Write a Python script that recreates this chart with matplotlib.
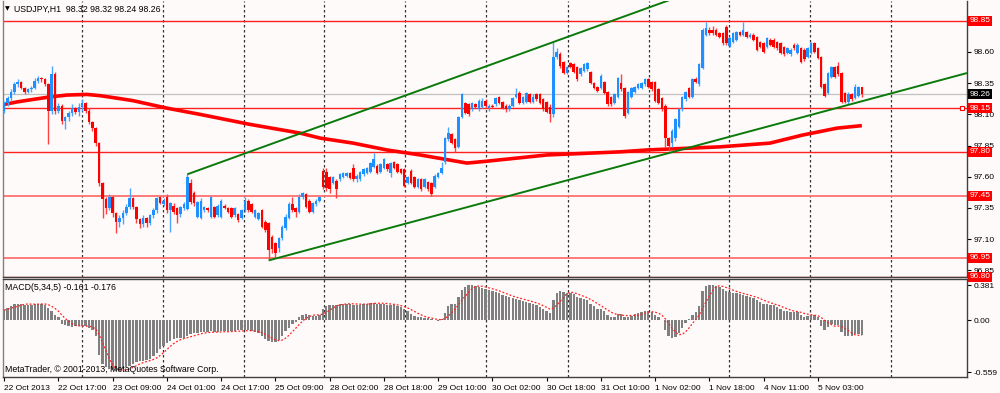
import matplotlib
matplotlib.use('Agg')
import matplotlib.pyplot as plt
import numpy as np
import pandas as pd

# ---------------- data ----------------
opens = [98.13,98.19,98.23,98.28,98.34,98.36,98.31,98.28,98.30,98.31,98.37,98.39,98.38,98.34,98.13,98.42,98.13,98.17,98.05,98.08,
98.11,98.15,98.12,98.16,98.19,98.13,98.04,97.99,97.87,97.55,97.42,97.35,97.44,97.31,97.24,97.27,97.31,97.36,97.43,97.36,
97.26,97.22,97.27,97.23,97.29,97.33,97.44,97.38,97.44,97.33,97.37,97.35,97.30,97.35,97.34,97.55,97.47,97.28,97.27,97.33,
97.35,97.28,97.36,97.29,97.28,97.37,97.35,97.35,97.29,97.30,97.27,97.33,97.41,97.38,97.28,97.26,97.33,97.24,97.23,97.12,
97.07,97.03,97.11,97.19,97.27,97.38,97.35,97.32,97.44,97.46,97.41,97.32,97.38,97.41,97.65,97.64,97.60,97.55,97.57,97.58,
97.60,97.61,97.63,97.67,97.58,97.58,97.62,97.63,97.64,97.68,97.69,97.64,97.67,97.70,97.63,97.72,97.70,97.66,97.66,97.55,
97.65,97.60,97.52,97.58,97.52,97.56,97.55,97.52,97.60,97.63,97.72,97.90,97.94,97.90,97.84,98.08,98.19,98.18,98.14,98.18,
98.14,98.16,98.21,98.15,98.17,98.18,98.24,98.20,98.17,98.14,98.17,98.24,98.27,98.19,98.20,98.26,98.20,98.26,98.26,98.22,
98.20,98.16,98.10,98.56,98.58,98.52,98.43,98.51,98.50,98.48,98.42,98.45,98.46,98.44,98.35,98.32,98.31,98.36,98.28,98.24,
98.19,98.24,98.35,98.31,98.11,98.24,98.28,98.31,98.31,98.34,98.38,98.36,98.36,98.30,98.23,98.17,97.91,97.87,97.91,98.00,
98.14,98.22,98.31,98.24,98.38,98.34,98.47,98.74,98.78,98.78,98.78,98.75,98.75,98.80,98.65,98.68,98.70,98.76,98.74,98.76,
98.72,98.74,98.72,98.68,98.67,98.64,98.70,98.70,98.68,98.67,98.64,98.59,98.58,98.66,98.59,98.63,98.62,98.56,98.59,98.67,
98.63,98.56,98.34,98.27,98.40,98.48,98.49,98.43,98.27,98.20,98.26,98.23,98.25,98.32]
highs = [98.21,98.25,98.30,98.36,98.38,98.37,98.32,98.31,98.33,98.39,98.41,98.40,98.39,98.35,98.49,98.44,98.19,98.18,98.09,98.13,
98.18,98.16,98.19,98.22,98.20,98.15,98.05,98.00,97.88,97.56,97.44,97.46,97.45,97.32,97.29,97.33,97.38,97.51,97.44,97.37,
97.27,97.29,97.28,97.30,97.35,97.44,97.45,97.43,97.46,97.40,97.39,97.36,97.37,97.40,97.62,97.58,97.49,97.41,97.43,97.37,
97.36,97.45,97.37,97.38,97.42,97.38,97.36,97.36,97.36,97.31,97.34,97.44,97.42,97.39,97.34,97.32,97.34,97.25,97.24,97.13,
97.08,97.12,97.21,97.30,97.40,97.44,97.36,97.46,97.48,97.47,97.42,97.40,97.42,97.45,97.67,97.67,97.61,97.61,97.58,97.63,
97.64,97.64,97.64,97.70,97.62,97.65,97.67,97.68,97.72,97.79,97.70,97.71,97.75,97.71,97.72,97.73,97.71,97.67,97.67,97.61,
97.66,97.61,97.59,97.59,97.59,97.57,97.56,97.62,97.64,97.72,97.92,98.00,97.95,97.91,98.09,98.27,98.20,98.19,98.20,98.19,
98.22,98.23,98.22,98.18,98.18,98.24,98.25,98.21,98.18,98.18,98.24,98.31,98.29,98.25,98.28,98.27,98.26,98.27,98.27,98.23,
98.21,98.18,98.68,98.63,98.60,98.53,98.49,98.52,98.51,98.49,98.48,98.51,98.52,98.45,98.36,98.33,98.42,98.37,98.29,98.25,
98.27,98.40,98.42,98.32,98.29,98.32,98.33,98.35,98.36,98.39,98.39,98.37,98.37,98.31,98.24,98.18,97.92,97.98,98.07,98.15,
98.25,98.29,98.32,98.39,98.40,98.51,98.79,98.84,98.80,98.81,98.79,98.76,98.76,98.82,98.72,98.76,98.77,98.77,98.84,98.77,
98.75,98.75,98.73,98.69,98.68,98.72,98.71,98.71,98.69,98.68,98.65,98.64,98.63,98.67,98.67,98.64,98.63,98.64,98.68,98.68,
98.64,98.57,98.35,98.44,98.49,98.49,98.52,98.44,98.28,98.28,98.27,98.34,98.33,98.32]
lows = [98.11,98.17,98.21,98.26,98.32,98.30,98.26,98.27,98.28,98.30,98.35,98.36,98.33,97.86,98.10,98.10,98.11,98.02,97.98,98.05,
98.09,98.10,98.09,98.13,98.11,98.02,97.97,97.85,97.53,97.27,97.30,97.33,97.28,97.15,97.20,97.22,97.29,97.34,97.34,97.23,
97.19,97.20,97.20,97.21,97.27,97.31,97.38,97.37,97.31,97.16,97.30,97.23,97.28,97.33,97.33,97.38,97.37,97.27,97.26,97.32,
97.32,97.27,97.27,97.28,97.27,97.34,97.31,97.27,97.28,97.24,97.26,97.32,97.32,97.31,97.27,97.25,97.19,97.16,96.94,96.99,
96.96,97.00,97.09,97.17,97.26,97.32,97.28,97.31,97.42,97.35,97.31,97.31,97.37,97.40,97.50,97.49,97.47,97.54,97.43,97.57,
97.59,97.60,97.58,97.57,97.56,97.57,97.61,97.62,97.63,97.67,97.62,97.63,97.66,97.65,97.60,97.66,97.63,97.62,97.52,97.54,
97.54,97.51,97.51,97.49,97.51,97.49,97.45,97.51,97.59,97.62,97.70,97.89,97.86,97.80,97.83,98.07,98.10,98.09,98.13,98.15,
98.13,98.15,98.15,98.13,98.15,98.17,98.18,98.14,98.12,98.13,98.16,98.23,98.18,98.18,98.19,98.19,98.19,98.21,98.18,98.13,
98.11,98.04,98.08,98.54,98.47,98.42,98.42,98.47,98.43,98.37,98.41,98.44,98.45,98.34,98.30,98.28,98.30,98.26,98.17,98.17,
98.18,98.23,98.29,98.07,98.10,98.23,98.27,98.30,98.30,98.33,98.31,98.29,98.20,98.18,98.13,97.84,97.81,97.84,97.89,97.99,
98.13,98.21,98.23,98.23,98.35,98.33,98.46,98.73,98.74,98.74,98.73,98.71,98.66,98.66,98.64,98.67,98.69,98.73,98.73,98.71,
98.71,98.69,98.61,98.63,98.59,98.63,98.65,98.63,98.62,98.58,98.57,98.58,98.57,98.62,98.58,98.51,98.53,98.55,98.58,98.59,
98.54,98.31,98.24,98.26,98.39,98.39,98.41,98.19,98.19,98.18,98.21,98.22,98.24,98.24]
closes = [98.19,98.23,98.28,98.34,98.36,98.31,98.28,98.30,98.31,98.37,98.39,98.38,98.34,98.13,98.42,98.13,98.17,98.05,98.08,98.11,
98.15,98.12,98.16,98.19,98.13,98.04,97.99,97.87,97.55,97.42,97.35,97.44,97.31,97.24,97.27,97.31,97.36,97.43,97.36,97.26,
97.22,97.27,97.23,97.29,97.33,97.43,97.39,97.41,97.33,97.39,97.32,97.29,97.36,97.38,97.60,97.40,97.39,97.40,97.41,97.36,
97.33,97.44,97.28,97.37,97.41,97.35,97.32,97.28,97.35,97.25,97.33,97.41,97.33,97.32,97.33,97.31,97.20,97.17,97.01,97.02,
96.99,97.11,97.20,97.28,97.38,97.33,97.32,97.44,97.47,97.36,97.32,97.39,97.41,97.44,97.52,97.51,97.50,97.60,97.50,97.62,
97.63,97.63,97.59,97.58,97.61,97.64,97.66,97.67,97.71,97.74,97.63,97.70,97.74,97.66,97.71,97.67,97.64,97.63,97.53,97.60,
97.55,97.52,97.58,97.50,97.58,97.50,97.46,97.61,97.63,97.67,97.91,97.95,97.87,97.83,98.08,98.26,98.11,98.10,98.19,98.16,
98.21,98.21,98.17,98.17,98.16,98.23,98.19,98.15,98.14,98.17,98.23,98.26,98.19,98.24,98.27,98.20,98.24,98.22,98.19,98.14,
98.12,98.10,98.56,98.60,98.49,98.43,98.48,98.48,98.44,98.38,98.47,98.50,98.51,98.35,98.31,98.29,98.41,98.27,98.18,98.18,
98.26,98.39,98.30,98.09,98.28,98.31,98.32,98.34,98.35,98.38,98.32,98.30,98.21,98.19,98.14,97.91,97.85,97.97,98.06,98.14,
98.24,98.28,98.24,98.38,98.36,98.50,98.78,98.79,98.75,98.75,98.74,98.72,98.67,98.67,98.71,98.75,98.76,98.74,98.78,98.72,
98.74,98.70,98.62,98.64,98.60,98.71,98.66,98.64,98.63,98.59,98.58,98.63,98.62,98.63,98.66,98.52,98.54,98.63,98.67,98.60,
98.55,98.32,98.25,98.43,98.48,98.40,98.42,98.20,98.20,98.26,98.22,98.32,98.32,98.26]

# moving average (thick red line), sampled points: bar index, price
ma_bars = [0, 3.8, 8.5, 13.5, 18.5, 24.4, 28.3, 33.3, 38, 43, 48, 57.8, 72.5, 87.3, 93.2, 102.9, 112.9,
           122.7, 131.2, 136.5, 142.4, 160.1, 181.7, 189.6, 211.2, 225.9, 235.6, 245.7, 253]
ma_vals = [98.18, 98.20, 98.22, 98.24, 98.255, 98.26, 98.25, 98.23, 98.21, 98.18, 98.15, 98.10, 98.02, 97.95, 97.91,
           97.87, 97.815, 97.775, 97.735, 97.71, 97.725, 97.775, 97.80, 97.815, 97.84, 97.87, 97.935, 97.99, 98.01]

# trend lines: two anchor points each (bar, price)
upper_trend = [(54, 97.62), (162, 98.68)]
lower_trend = [(78, 96.93), (196, 97.79)]

# horizontal levels
red_levels = [98.85, 98.15, 97.80, 96.80]
light_levels = [97.45, 96.95]
label_levels = [98.85, 98.15, 97.80, 97.45, 96.95, 96.80]
bid_price = 98.26
price_ticks = [98.60, 98.35, 98.10, 97.85, 97.60, 97.35, 97.10, 96.85]

# MACD(5,34,5) main values
macd = [0.11, 0.13, 0.15, 0.18, 0.18, 0.18,
        0.17, 0.17, 0.17, 0.18, 0.18, 0.18, 0.17, 0.13, 0.10, 0.06, 0.03,
        -0.04, -0.05, -0.06, -0.07, -0.06, -0.06, -0.06, -0.06, -0.08, -0.10,
        -0.17, -0.38, -0.47, -0.51, -0.53, -0.54, -0.55, -0.55, -0.53, -0.51, -0.49, -0.47,
        -0.45, -0.44, -0.44, -0.43, -0.42, -0.39, -0.35, -0.31, -0.28, -0.25, -0.22, -0.20,
        -0.19, -0.19, -0.19, -0.17, -0.15,
        -0.14, -0.14, -0.13, -0.13, -0.13, -0.12, -0.13, -0.13, -0.12, -0.12, -0.12, -0.12, -0.12,
        -0.11, -0.11, -0.11, -0.11, -0.12, -0.13, -0.14,
        -0.17, -0.20, -0.22, -0.24, -0.23, -0.21, -0.17, -0.12, -0.08, -0.04, -0.02,
        0.03, 0.06, 0.07, 0.06, 0.05, 0.05, 0.06,
        0.12, 0.15, 0.16, 0.17, 0.17, 0.18, 0.18, 0.18, 0.18,
        0.17, 0.17, 0.17, 0.18, 0.18, 0.19, 0.19, 0.18, 0.18, 0.18, 0.17, 0.17, 0.16, 0.15, 0.14, 0.12, 0.10, 0.07,
        0.05, 0.04, 0.03, 0.02, 0.02, 0.01, 0.00, -0.01, 0.01,
        0.08, 0.15, 0.18, 0.18, 0.25, 0.33, 0.36, 0.38, 0.38, 0.37,
        0.36, 0.35, 0.34, 0.33, 0.32, 0.31, 0.29, 0.27, 0.26, 0.25, 0.24, 0.23, 0.22, 0.21, 0.20, 0.19, 0.18, 0.16,
        0.14, 0.12, 0.10, 0.08,
        0.22, 0.30, 0.32, 0.31, 0.30,
        0.29, 0.28, 0.25, 0.24, 0.23, 0.22, 0.18, 0.15, 0.12, 0.12, 0.10, 0.06, 0.04, 0.04,
        0.07, 0.07, 0.04, 0.03, 0.05, 0.07, 0.08, 0.09, 0.10, 0.10, 0.09, 0.06, 0.03, 0.00,
        -0.10, -0.17, -0.19, -0.18, -0.14, -0.08,
        -0.03, 0.01, 0.06, 0.09, 0.15,
        0.32, 0.37, 0.38, 0.38, 0.37, 0.36, 0.34,
        0.32, 0.31, 0.30, 0.29, 0.28, 0.27, 0.26, 0.25, 0.24, 0.22, 0.20, 0.18, 0.18, 0.17, 0.16, 0.14, 0.12, 0.10,
        0.10, 0.09, 0.09, 0.09, 0.06, 0.04, 0.05, 0.06, 0.06, 0.04,
        -0.06, -0.10, -0.07, -0.04, -0.05, -0.05, -0.13, -0.17, -0.17, -0.17, -0.15, -0.15, -0.16]
macd_ticks = [0.381, 0.00, -0.559]
macd_tick_labels = ['0.381', '0.00', '-0.559']

grid_bars = [22.95, 46.8, 70.7, 94.3, 118.2, 142.1, 166.3, 190.2, 213.8, 237.7, 261.6]
xtick_bars = [0, 16, 32, 48, 64, 80, 96, 112, 128, 144, 160, 176, 192, 208, 224, 240]
xtick_labels = ['22 Oct 2013', '22 Oct 17:00', '23 Oct 09:00', '24 Oct 01:00', '24 Oct 17:00',
                '25 Oct 09:00', '28 Oct 02:00', '28 Oct 18:00', '29 Oct 10:00', '30 Oct 02:00',
                '30 Oct 18:00', '31 Oct 10:00', '1 Nov 02:00', '1 Nov 18:00', '4 Nov 11:00', '5 Nov 03:00']

title_text = 'USDJPY,H1  98.32 98.32 98.24 98.26'
macd_title = 'MACD(5,34,5) -0.161 -0.176'
copyright_text = 'MetaTrader, \u00a9 2001-2013, MetaQuotes Software Corp.'

# ---------------- style ----------------
BG = '#FFFAFA'
BULL = '#1E90FF'
BEAR = '#FF0000'
BULL_W = '#4AA6FF'
BEAR_W = '#FF4040'
FONT = ['Liberation Sans Narrow', 'Liberation Sans', 'DejaVu Sans']
plt.rcParams['font.family'] = FONT
FS = 6.0

W, H = 1000, 393
fig = plt.figure(figsize=(W / 100, H / 100), dpi=100, facecolor=BG)

def fx(px):
    return px / W

def fy(py):
    return 1 - py / H

left_px, right_px = 2.7, 967
main_top, main_bot = 1, 277
macd_top, macd_bot = 279, 377

ax = fig.add_axes([fx(left_px), fy(main_bot), fx(right_px - left_px), (main_bot - main_top) / H], facecolor=BG)
ax2 = fig.add_axes([fx(left_px), fy(macd_bot), fx(right_px - left_px), (macd_bot - macd_top) / H], facecolor=BG)

bar_px0, bar_step = 4.2, 3.39
xl = ((left_px - bar_px0) / bar_step, (right_px - bar_px0) / bar_step)
for a in (ax, ax2):
    a.set_xlim(*xl)

ppu = 124.8  # pixels per price unit
ax.set_ylim(98.60 - (main_bot - 52) / ppu, 98.60 + (52 - main_top) / ppu)
ax2.set_ylim(-0.613, 0.446)

n = len(closes)
idx = np.arange(n)
o = np.array(opens); h = np.array(highs); l = np.array(lows); c = np.array(closes)
up = c >= o

# grid lines
for a in (ax, ax2):
    for g in grid_bars:
        a.axvline(g, color='#333333', lw=0.9, ls=(0, (2, 2)), zorder=1)

# horizontal levels
for lv in red_levels:
    ax.axhline(lv, color='#FF2020', lw=1.0, zorder=2)
for lv in light_levels:
    ax.axhline(lv, color='#FF7070', lw=1.3, zorder=2)
ax.axhline(bid_price, color='#C0C0C0', lw=0.9, zorder=2)

# MA
ax.plot(ma_bars, ma_vals, color='#FF0000', lw=2.6, solid_capstyle='butt', zorder=3)

# candles
ax.vlines(idx[up], l[up], h[up], color=BULL_W, lw=1.0, zorder=4)
ax.vlines(idx[~up], l[~up], h[~up], color=BEAR_W, lw=1.0, zorder=4)
body_lo = np.minimum(o, c)
body_h = np.maximum(np.abs(c - o), 0.008)
ax.bar(idx[up], body_h[up], bottom=body_lo[up], width=0.75, color=BULL, zorder=5, linewidth=0)
ax.bar(idx[~up], body_h[~up], bottom=body_lo[~up], width=0.75, color=BEAR, zorder=5, linewidth=0)

# trend lines (rays to the right edge)
for (b1, p1), (b2, p2) in (upper_trend, lower_trend):
    slope = (p2 - p1) / (b2 - b1)
    xe = xl[1]
    ax.plot([b1, xe], [p1, p1 + slope * (xe - b1)], color='#0A7A0A', lw=1.4, zorder=6, solid_capstyle='butt')

# small alert marker on 98.15
ax.plot([282.6], [98.15], marker='s', ms=2.6, mfc='white', mec='red', mew=0.8, zorder=7, clip_on=False)

# MACD
ax2.bar(idx, macd, width=0.7, color='#808080', linewidth=0, zorder=3)
signal = pd.Series(macd).rolling(5, min_periods=1).mean()
ax2.plot(idx, signal, color='#FF2020', lw=0.9, ls=(0, (1.5, 1.5)), zorder=4)

# spines
for a in (ax, ax2):
    for s in a.spines.values():
        s.set_color('#404040')
        s.set_linewidth(1.0)
ax.spines['top'].set_visible(False)
ax.spines['left'].set_color('#808080')
ax2.spines['left'].set_color('#808080')

# y ticks on the right
ax.yaxis.tick_right()
ax.set_yticks(price_ticks)
ax.set_yticklabels(['%.2f' % v for v in price_ticks])
ax.tick_params(axis='y', direction='out', length=3, width=0.8, pad=1.5, labelsize=FS, colors='black')
ax.set_xticks([])

ax2.yaxis.tick_right()
ax2.set_yticks(macd_ticks)
ax2.set_yticklabels(macd_tick_labels)
ax2.tick_params(axis='y', direction='out', length=3, width=0.8, pad=1.5, labelsize=FS, colors='black')

ax2.set_xticks(xtick_bars)
ax2.set_xticklabels(xtick_labels)
ax2.tick_params(axis='x', direction='out', length=3, width=0.8, pad=2.5, labelsize=FS, colors='black')
for t in ax2.get_xticklabels():
    t.set_horizontalalignment('left')

# level labels on price axis
ytr = ax.get_yaxis_transform()
for lv in label_levels:
    ax.text(1.0025, lv, '%.2f' % lv, transform=ytr, ha='left', va='center', fontsize=FS, color='white',
            bbox=dict(boxstyle='square,pad=0.18', fc='#FF0000', ec='none'), zorder=10, clip_on=False)
ax.text(1.0025, bid_price, '%.2f' % bid_price, transform=ytr, ha='left', va='center', fontsize=FS, color='white',
        bbox=dict(boxstyle='square,pad=0.18', fc='black', ec='none'), zorder=10, clip_on=False)

# titles
fig.text(fx(5), fy(9), '\u25bc', fontsize=4.5, ha='left', va='center', family=['DejaVu Sans'])
fig.text(fx(14), fy(9), title_text, fontsize=FS + 0.3, ha='left', va='center', color='black')
fig.text(fx(5), fy(287), macd_title, fontsize=FS + 0.3, ha='left', va='center', color='black')
fig.text(fx(5), fy(370), copyright_text, fontsize=FS + 0.3, ha='left', va='center', color='black')

fig.savefig('out.png', dpi=100, facecolor=BG)
